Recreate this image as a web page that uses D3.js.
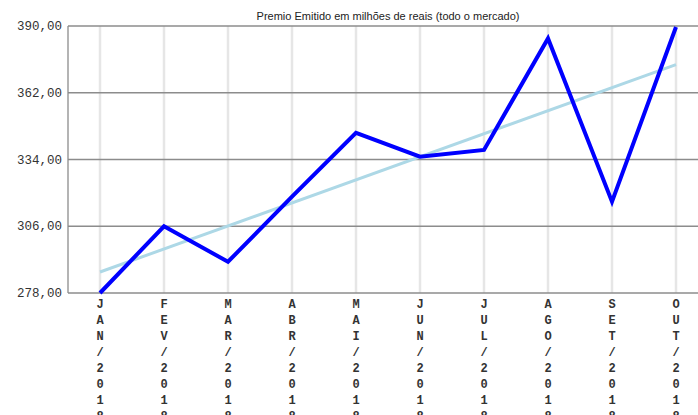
<!DOCTYPE html>
<html><head><meta charset="utf-8">
<script src="https://cdn.jsdelivr.net/npm/d3@7"></script>
<style>body{margin:0;background:#fff;overflow:hidden}</style>
</head><body>
<svg id="c" width="698" height="415"></svg>
<script>
const categories = ["JAN/2018","FEV/2018","MAR/2018","ABR/2018","MAI/2018","JUN/2018","JUL/2018","AGO/2018","SET/2018","OUT/2018"];
const premio = [278.0, 306.0, 291.1, 318.4, 345.2, 335.2, 338.0, 384.8, 316.3, 389.6];
const trendCats = ["JAN/2018","OUT/2018"];
const trend = [286.8, 373.8];
const yTicks = [278, 306, 334, 362, 390];
const yTickLabels = ["278,00","306,00","334,00","362,00","390,00"];
const title = "Premio Emitido em milhões de reais (todo o mercado)";

const svg = d3.select("#c");
const L = 68, R = 708, T = 26, B = 293;
const x = d3.scaleBand().domain(categories).range([L, R]).paddingInner(0).paddingOuter(0);
const cx = d => x(d) + x.bandwidth()/2;
const y = d3.scaleLinear().domain([278, 390]).range([B, T]);

// vertical grid
svg.append("g").selectAll("line").data(categories).join("line")
  .attr("x1", d=>cx(d)).attr("x2", d=>cx(d)).attr("y1", T).attr("y2", B)
  .attr("stroke", "#e6e6e6").attr("stroke-width", 2.5);

// horizontal grid
svg.append("g").selectAll("line").data(yTicks).join("line")
  .attr("x1", L).attr("x2", R).attr("y1", d=>y(d)).attr("y2", d=>y(d))
  .attr("stroke", "#8c8c8c").attr("stroke-width", 1.3);

// left border
svg.append("line").attr("x1", L).attr("x2", L).attr("y1", T).attr("y2", B)
  .attr("stroke", "#8c8c8c").attr("stroke-width", 1.3);

// y labels
svg.append("g").selectAll("text").data(yTicks).join("text")
  .attr("x", 62).attr("y", d=>y(d)+4)
  .attr("text-anchor", "end")
  .attr("font-family", "Liberation Mono, monospace").attr("font-size", 12.5)
  .attr("fill", "#333")
  .text((d,i)=>yTickLabels[i]);

// x labels (vertical stacked chars)
const xg = svg.append("g").selectAll("text").data(categories).join("text")
  .attr("text-anchor", "middle")
  .attr("font-family", "Liberation Mono, monospace").attr("font-size", 12)
  .attr("font-weight", "bold").attr("fill", "#333");
xg.each(function(d){
  const t = d3.select(this);
  d.split("").forEach((ch,i)=>{
    t.append("tspan").attr("x", cx(d)).attr("y", 308 + i*16).text(ch);
  });
});

// trend line
const line = d3.line().x(d=>cx(d[0])).y(d=>y(d[1]));
svg.append("path").datum(trendCats.map((c,i)=>[c, trend[i]]))
  .attr("d", line).attr("fill","none").attr("stroke","#add8e6").attr("stroke-width", 3);

// main line
svg.append("path").datum(categories.map((c,i)=>[c, premio[i]]))
  .attr("d", line).attr("fill","none").attr("stroke","#0000ff").attr("stroke-width", 4)
  .attr("stroke-linejoin","miter");

// title
svg.append("text").attr("x", (L+R)/2).attr("y", 20).attr("text-anchor","middle")
  .attr("font-family","Liberation Sans, Arial, sans-serif").attr("font-size", 11)
  .attr("fill","#222").text(title);
</script>
</body></html>
